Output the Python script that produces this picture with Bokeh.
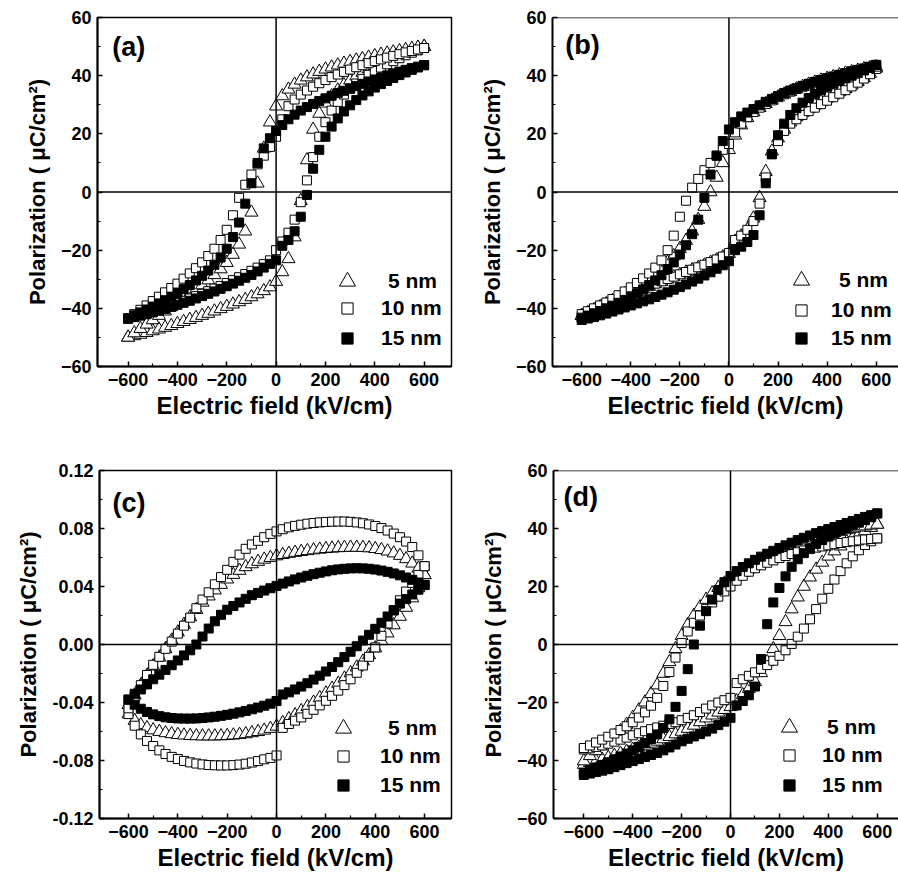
from bokeh.plotting import figure
from bokeh.layouts import row, column
from bokeh.models import (Range1d, FixedTicker, Span, Label, Legend, LegendItem,
                          NumeralTickFormatter)
from bokeh.embed import file_html
from bokeh.resources import INLINE

# ---------------- data ----------------
E = [-600, -575, -550, -525, -500, -475, -450, -425, -400, -375, -350, -325, -300,
     -275, -250, -225, -200, -175, -150, -125, -100, -75, -50, -25, 0, 25, 50, 75,
     100, 125, 150, 175, 200, 225, 250, 275, 300, 325, 350, 375, 400, 425, 450, 475,
     500, 525, 550, 575, 600]

# panel (a)
A5_up = [-50, -48.5, -47, -45.5, -44, -42.5, -41, -39.5, -38, -36.5, -35, -33.5, -32, -30.3, -28.5, -26.5, -24.3, -21.5, -18, -13.5,
         -7, 3, 15, 24, 29.5, 33, 35.3, 37, 38.4, 39.5, 40.5, 41.4, 42.2, 42.9, 43.6, 44.2, 44.8, 45.3, 45.8, 46.3,
         46.8, 47.3, 47.7, 48.1, 48.5, 48.9, 49.3, 49.7, 50]
A5_lo = [-50, -49.5, -49, -48.4, -47.8, -47.2, -46.6, -46, -45.3, -44.6, -43.9, -43.2, -42.5, -41.8, -41, -40.2, -39.4, -38.6, -37.8, -37,
         -36.1, -35.1, -34, -32.7, -30.8, -27.5, -23, -15.5, -3, 11, 21.5, 27, 30.5, 33, 35, 36.8, 38.4, 39.8, 41.1, 42.3,
         43.4, 44.4, 45.4, 46.3, 47.2, 48, 48.7, 49.4, 50]
A10_up = [-43.5, -42, -40.5, -39, -37.5, -36, -34.5, -33, -31.5, -29.8, -28, -26.2, -24.2, -22, -19.5, -16.5, -13, -8, -2, 2.5,
          6, 9.5, 12.5, 15.5, 19, 25, 29.5, 31.8, 33.5, 34.9, 36.2, 37.4, 38.5, 39.5, 40.4, 41.3, 42.1, 42.9, 43.6, 44.3,
          45, 45.6, 46.2, 46.8, 47.4, 48, 48.5, 49, 49.5]
A10_lo = [-43.5, -43, -42.4, -41.8, -41.1, -40.4, -39.7, -39, -38.2, -37.4, -36.6, -35.8, -35, -34.1, -33.2, -32.3, -31.3, -30.3, -29.3, -28.2,
          -27.1, -26, -24.8, -23.5, -20, -17, -14, -9.5, -3.5, 4, 12, 19, 24, 28, 31, 33.5, 35.5, 37.3, 38.9, 40.3,
          41.6, 42.8, 43.9, 45, 46, 47, 47.9, 48.7, 49.5]
A15_up = [-43.5, -42.4, -41.4, -40.4, -39.4, -38.3, -37.2, -36, -34.7, -33.4, -32, -30.4, -28.8, -27, -25, -22.5, -19.5, -15.5, -10.5, -4,
          3, 10, 15, 18.5, 21, 23, 25, 26.6, 28, 29.2, 30.3, 31.3, 32.2, 33.1, 34, 34.8, 35.6, 36.4, 37.2, 38,
          38.7, 39.4, 40.1, 40.8, 41.4, 42, 42.6, 43.1, 43.6]
A15_lo = [-43.5, -43, -42.5, -42, -41.4, -40.8, -40.2, -39.5, -38.8, -38.1, -37.4, -36.6, -35.8, -35, -34.2, -33.3, -32.4, -31.5, -30.5, -29.5,
          -28.5, -27.3, -26, -24.7, -23.5, -18.5, -16.5, -13.5, -8.5, -1, 8, 14.5, 19, 22.5, 25.3, 27.7, 29.8, 31.6, 33.2, 34.6,
          35.9, 37.1, 38.2, 39.2, 40.2, 41.1, 42, 42.8, 43.6]

# panel (b)
B5_up = [-42.5, -41.5, -40.5, -39.5, -38.5, -37.4, -36.3, -35.1, -33.9, -32.6, -31.2, -29.7, -28, -26.2, -24.2, -22, -19.5, -16.7, -13.5, -9.5,
         -5, 0, 5, 10, 14.5, 19.5, 23, 25.5, 27.5, 29, 30.3, 31.5, 32.6, 33.6, 34.5, 35.4, 36.2, 37, 37.7, 38.4,
         39, 39.6, 40.2, 40.8, 41.3, 41.8, 42.3, 42.7, 43]
B5_lo = [-42.5, -41.8, -41, -40.1, -39.2, -38.2, -37.2, -36.2, -35.2, -34.3, -33.4, -32.5, -31.6, -30.8, -30, -29.2, -28.4, -27.6, -26.8, -26,
         -25.2, -24.3, -23.4, -22.4, -21.2, -17, -15.2, -13, -9, -2, 7, 14, 18.5, 21.5, 24, 25.8, 27.3, 28.6, 29.8, 31,
         32.2, 33.3, 34.4, 35.5, 36.7, 37.9, 39.2, 40.7, 42.5]
B10_up = [-42, -41, -40, -39, -38, -36.8, -35.5, -34.2, -32.8, -31.3, -29.7, -28, -26, -23.5, -20, -15, -8.5, -3, 1.5, 4.5,
          7.5, 10, 12.5, 14.5, 16.5, 20.5, 23.5, 25.7, 27.5, 29, 30.3, 31.5, 32.6, 33.6, 34.5, 35.4, 36.2, 37, 37.7, 38.4,
          39, 39.6, 40.2, 40.8, 41.3, 41.8, 42.3, 42.7, 43.1]
B10_lo = [-43, -42.2, -41.3, -40.4, -39.4, -38.4, -37.3, -36.2, -35.1, -34.2, -33.3, -32.4, -31.5, -30.7, -29.9, -29.1, -28.3, -27.5, -26.7, -25.9,
          -25, -24.1, -23.2, -22.2, -21, -16.5, -15, -13, -10, -4, 5, 13, 17.5, 21, 23.5, 25, 26.5, 27.8, 29, 30.2,
          31.4, 32.6, 33.8, 35, 36.3, 37.6, 39, 40.5, 42.3]
B15_up = [-43.2, -42.5, -41.7, -40.9, -40, -39.1, -38.1, -37.1, -36, -34.8, -33.5, -32, -30.4, -28.6, -26.5, -24.2, -21.5, -18.3, -14.5, -9.5,
          -2, 6, 12.5, 17.5, 21.5, 24, 26, 27.3, 28.5, 29.8, 31, 32, 33, 34, 34.9, 35.7, 36.5, 37.2, 37.9, 38.5,
          39.1, 39.7, 40.3, 40.9, 41.5, 42, 42.5, 43.1, 43.7]
B15_lo = [-44, -43.5, -43, -42.4, -41.8, -41.1, -40.4, -39.7, -39, -38.3, -37.6, -36.9, -36.1, -35.3, -34.5, -33.6, -32.7, -31.8, -30.8, -29.8,
          -28.7, -27.6, -26.4, -25.2, -23.8, -20, -18.8, -17.2, -14.8, -8, 3, 13, 19.5, 23.5, 26.5, 28.8, 30.7, 32.3, 33.7, 35,
          36.2, 37.2, 38.2, 39.1, 40, 40.9, 41.8, 42.7, 43.7]

# panel (c)
C5_up = [-0.0415, -0.035, -0.028, -0.0215, -0.015, -0.0088, -0.003, 0.0028, 0.0085, 0.0138, 0.019, 0.024, 0.029, 0.0333, 0.0375, 0.0413, 0.045, 0.0482, 0.051, 0.0535,
         0.0555, 0.0572, 0.0587, 0.0599, 0.061, 0.0619, 0.0627, 0.0634, 0.064, 0.0646, 0.0651, 0.0656, 0.066, 0.0663, 0.0666, 0.0668, 0.0669, 0.0669, 0.0668, 0.0665,
         0.066, 0.0653, 0.0643, 0.063, 0.0613, 0.059, 0.056, 0.0525, 0.048]
C5_lo = [-0.048, -0.0525, -0.0555, -0.0575, -0.059, -0.0601, -0.061, -0.0617, -0.0622, -0.0626, -0.0629, -0.0631, -0.0632, -0.0632, -0.0632, -0.0631, -0.0629, -0.0626, -0.0622, -0.0617,
         -0.061, -0.0602, -0.0592, -0.058, -0.0565, -0.054, -0.0513, -0.0486, -0.0458, -0.0429, -0.0399, -0.0368, -0.0336, -0.0303, -0.0269, -0.0233, -0.0196, -0.0157, -0.0116, -0.0072,
         -0.0025, 0.0025, 0.0078, 0.0134, 0.0193, 0.0255, 0.032, 0.039, 0.048]
C10_up = [-0.044, -0.036, -0.028, -0.021, -0.014, -0.0085, -0.003, 0.002, 0.0075, 0.013, 0.0185, 0.025, 0.031, 0.036, 0.0415, 0.0465, 0.0515, 0.057, 0.062, 0.066,
          0.069, 0.0715, 0.074, 0.0763, 0.078, 0.0795, 0.0808, 0.0818, 0.0826, 0.0833, 0.0838, 0.0842, 0.0845, 0.0847, 0.0848, 0.0848, 0.0846, 0.0842, 0.0836, 0.0828,
          0.0817, 0.0803, 0.0786, 0.0765, 0.074, 0.071, 0.0672, 0.0615, 0.054]
C10_lo = [-0.048, -0.056, -0.062, -0.0665, -0.07, -0.073, -0.0755, -0.0775, -0.079, -0.0803, -0.0813, -0.0821, -0.0827, -0.0831, -0.0833, -0.0834, -0.0834, -0.0832, -0.0828, -0.0822,
          -0.0814, -0.0804, -0.0792, -0.0782, -0.0765, -0.0575, -0.0548, -0.0525, -0.0503, -0.0478, -0.045, -0.042, -0.0388, -0.0354, -0.0318, -0.028, -0.024, -0.0195, -0.0145, -0.0085,
          -0.002, 0.006, 0.0145, 0.0235, 0.0305, 0.0365, 0.0425, 0.048, 0.054]
C15_up = [-0.038, -0.034, -0.031, -0.0275, -0.024, -0.0208, -0.0175, -0.0143, -0.011, -0.0075, -0.004, 0.0, 0.0055, 0.011, 0.016, 0.0205, 0.024, 0.0265, 0.029, 0.0315,
          0.034, 0.0356, 0.0372, 0.0388, 0.0404, 0.042, 0.0435, 0.0449, 0.0462, 0.0474, 0.0485, 0.0495, 0.0504, 0.0512, 0.0518, 0.0522, 0.0525, 0.0526, 0.0525, 0.0522,
          0.0517, 0.051, 0.0501, 0.049, 0.0477, 0.0462, 0.0446, 0.0428, 0.041]
C15_lo = [-0.038, -0.0415, -0.0443, -0.0465, -0.0482, -0.0494, -0.0502, -0.0507, -0.051, -0.0511, -0.0511, -0.051, -0.0507, -0.0503, -0.0498, -0.0492, -0.0485, -0.0477, -0.0468, -0.0458,
          -0.0447, -0.0435, -0.0422, -0.0408, -0.039, -0.0345, -0.033, -0.031, -0.029, -0.0267, -0.0242, -0.0215, -0.0186, -0.0155, -0.0122, -0.0087, -0.005, -0.0012, 0.0027, 0.0067,
          0.0108, 0.015, 0.0193, 0.0237, 0.0282, 0.0313, 0.0345, 0.0378, 0.041]

# panel (d)
D5_up = [-40.2, -38.4, -36.7, -35, -33.3, -31.6, -29.8, -27.6, -25.2, -22.6, -19.9, -17, -14, -10, -6, -1.5, 3, 6.8, 10, 12.9,
         15.5, 17.7, 19.6, 21.1, 22.4, 23.6, 24.8, 26, 27.1, 28.2, 29.3, 30.4, 31.5, 32.5, 33.5, 34.4, 35.2, 35.9, 36.6, 37.3,
         37.9, 38.5, 39, 39.5, 40, 40.4, 40.8, 41.1, 41.4]
D5_lo = [-41.4, -40.8, -40.2, -39.6, -39, -38.3, -37.6, -36.9, -36.2, -35.5, -34.8, -34.1, -33.4, -32.6, -31.8, -30.9, -30, -29, -27.9, -26.7,
         -25.4, -24.4, -23.4, -22.5, -21.5, -19.5, -17.4, -15.2, -12.9, -9.8, -6, -1.5, 3, 7.8, 12.2, 16.3, 20, 23.2, 25.9, 28.3,
         30.4, 32.2, 33.9, 35.4, 36.7, 37.9, 39.1, 40.3, 41.4]
D10_up = [-35.7, -34.8, -33.8, -32.8, -31.8, -30.7, -29.5, -28.2, -26.8, -25.2, -23.4, -21.1, -18.4, -14.3, -9.5, -4.5, 0.5, 4.5, 7.5, 10,
          12.3, 14.5, 16.5, 18.3, 20, 22, 23.7, 25.1, 26.3, 27.3, 28.2, 29, 29.8, 30.5, 31.2, 31.8, 32.4, 32.9, 33.4, 33.8,
          34.2, 34.6, 35, 35.3, 35.6, 35.9, 36.2, 36.4, 36.6]
D10_lo = [-36.2, -35.8, -35.3, -34.8, -34.2, -33.5, -32.8, -32.1, -31.3, -30.6, -29.9, -29.2, -28.6, -28, -27.4, -26.8, -26.1, -25.3, -24.4, -23.3,
          -22.1, -21, -20, -19.2, -18.4, -13.3, -12, -10.8, -9.6, -8.4, -7.1, -5.6, -3.9, -2, 0.2, 2.7, 5.5, 8.7, 12.2, 15.8,
          19.2, 22.4, 25.3, 28, 30.4, 32.5, 34.3, 35.6, 36.6]
D15_up = [-44.2, -43.3, -42.4, -41.5, -40.6, -39.6, -38.6, -37.6, -36.5, -35.3, -34, -32.6, -31, -28.8, -25.8, -21.5, -16, -8.5, 0, 6.5,
          11.5, 15.5, 18.8, 21.5, 23.6, 25.3, 26.7, 28, 29.2, 30.3, 31.3, 32.3, 33.3, 34.2, 35.1, 36, 36.8, 37.6, 38.4, 39.1,
          39.8, 40.5, 41.2, 41.9, 42.6, 43.3, 44, 44.6, 45.2]
D15_lo = [-45, -44.5, -44, -43.5, -43, -42.3, -41.6, -40.9, -40.2, -39.5, -38.8, -38.1, -37.4, -36.5, -35.5, -34.5, -33.4, -32.5, -31.7, -30.9,
          -30, -29, -27.8, -26.6, -25.3, -21, -19.5, -17.5, -14.5, -5, 7, 14.5, 19.5, 23.5, 26.8, 29.4, 31.5, 33.2, 34.7, 36,
          37.2, 38.3, 39.3, 40.2, 41.1, 42, 42.9, 43.9, 45.2]

LABELS = ["5 nm", "10 nm", "15 nm"]
X_TICKS = [-600, -400, -200, 0, 200, 400, 600]
X_MINOR = [-500, -300, -100, 100, 300, 500]
Y_TICKS = [-60, -40, -20, 0, 20, 40, 60]
Y_MINOR = [-50, -30, -10, 10, 30, 50]
YC_TICKS = [-0.12, -0.08, -0.04, 0.0, 0.04, 0.08, 0.12]
YC_MINOR = [-0.10, -0.06, -0.02, 0.02, 0.06, 0.10]
X_TITLE = "Electric field (kV/cm)"
Y_TITLE = "Polarization ( \u03bcC/cm\u00b2)"

for arr in [A5_up, A5_lo, A10_up, A10_lo, A15_up, A15_lo, B5_up, B5_lo, B10_up, B10_lo,
            B15_up, B15_lo, C5_up, C5_lo, C10_up, C10_lo, C15_up, C15_lo, D5_up, D5_lo,
            D10_up, D10_lo, D15_up, D15_lo]:
    assert len(arr) == len(E), len(arr)

FONT = "Liberation Sans"


def panel(w, h, borders, xr, yr, yt, ym, series, tag, tag_xy, leg, yfmt=None, outline=True):
    bl, br, bt, bb = borders
    p = figure(width=w, height=h, min_border_left=bl, min_border_right=br,
               min_border_top=bt, min_border_bottom=bb,
               x_range=Range1d(*xr), y_range=Range1d(*yr),
               output_backend="svg", toolbar_location=None)
    p.background_fill_color = "white"
    p.border_fill_color = "white"
    p.xgrid.grid_line_color = None
    p.ygrid.grid_line_color = None
    if outline:
        p.outline_line_color = "black"
        p.outline_line_width = 1.5
        p.outline_line_alpha = 1.0
    else:
        p.outline_line_color = None
        p.add_layout(Span(location=yr[1], dimension="width", line_color="black", line_width=1.5))
    p.xaxis.ticker = FixedTicker(ticks=X_TICKS, minor_ticks=X_MINOR)
    p.yaxis.ticker = FixedTicker(ticks=yt, minor_ticks=ym)
    if yfmt:
        p.yaxis.formatter = NumeralTickFormatter(format=yfmt)
    for ax in (p.xaxis[0], p.yaxis[0]):
        ax.axis_line_width = 2
        ax.axis_line_color = "black"
        ax.major_tick_in = 5
        ax.major_tick_out = 0
        ax.minor_tick_in = 3
        ax.minor_tick_out = 0
        ax.major_tick_line_width = 1.5
        ax.minor_tick_line_width = 1.2
        ax.major_label_text_font = FONT
        ax.major_label_text_font_style = "bold"
        ax.major_label_text_font_size = "18px"
        ax.major_label_text_color = "black"
        ax.axis_label_text_font = FONT
        ax.axis_label_text_font_style = "bold"
        ax.axis_label_text_color = "black"
    p.xaxis.major_label_standoff = 6
    p.yaxis.major_label_standoff = 6
    p.xaxis.axis_label = X_TITLE
    p.xaxis.axis_label_text_font_size = "24px"
    p.xaxis.axis_label_standoff = 3
    p.yaxis.axis_label = Y_TITLE
    p.yaxis.axis_label_text_font_size = "22px"
    p.yaxis.axis_label_standoff = 8

    p.add_layout(Span(location=0, dimension="height", line_color="black", line_width=1.5))
    p.add_layout(Span(location=0, dimension="width", line_color="black", line_width=1.5))

    (lo5, up5), (lo10, up10), (lo15, up15) = series
    r5 = p.scatter(x=E + E, y=lo5 + up5, marker="triangle", size=13,
                   fill_color="white", line_color="black", line_width=1)
    r10 = p.scatter(x=E + E, y=lo10 + up10, marker="square", size=9,
                    fill_color="white", line_color="black", line_width=1)
    r15 = p.scatter(x=E + E, y=lo15 + up15, marker="square", size=9,
                    fill_color="black", line_color="black", line_width=1)

    p.add_layout(Label(x=tag_xy[0], y=tag_xy[1], text=tag, text_font=FONT,
                       text_font_style="bold", text_font_size="27px",
                       text_baseline="top", text_color="black"))

    # legend: three one-row legends so that the triangle can be drawn larger
    (tx, ty, ts), (sx, sy10, sy15, ss) = leg
    specs = [(r5, LABELS[0], tx, ty, 40, ts),
             (r10, LABELS[1], sx, sy10, 28, ss),
             (r15, LABELS[2], sx, sy15, 28, ss)]
    for r, lab, lx, ly, g, st in specs:
        lg = Legend(items=[LegendItem(label=lab, renderers=[r])], location=(lx, ly),
                    glyph_width=g, glyph_height=g, padding=0, margin=0, spacing=0,
                    label_standoff=st, border_line_color=None, background_fill_alpha=0,
                    label_text_font=FONT, label_text_font_style="bold",
                    label_text_font_size="21px", label_text_color="black")
        p.add_layout(lg)
    return p


pa = panel(453, 440, (97, 2, 17, 72), (-724, 711), (-60, 60), Y_TICKS, Y_MINOR,
           [(A5_lo, A5_up), (A10_lo, A10_up), (A15_lo, A15_up)],
           "(a)", (-664, 54.9), ((230, 65, 21), (236, 44, 14, 20)))
pb = panel(445, 440, (99, 0, 16, 74), (-719, 691), (-60, 60), Y_TICKS, Y_MINOR,
           [(B5_lo, B5_up), (B10_lo, B10_up), (B15_lo, B15_up)],
           "(b)", (-667, 55.8), ((229, 66, 18), (235, 42, 14, 16)), outline=False)
pc = panel(453, 441, (99, 2, 30, 61), (-717.5, 709), (-0.12, 0.12), YC_TICKS, YC_MINOR,
           [(C5_lo, C5_up), (C10_lo, C10_up), (C15_lo, C15_up)],
           "(c)", (-665, 0.1077), ((224, 70, 25), (230, 48, 19, 23)), yfmt="0.00")
pd_ = panel(445, 441, (100, 0, 27, 63), (-724, 687), (-60, 60), Y_TICKS, Y_MINOR,
            [(D5_lo, D5_up), (D10_lo, D10_up), (D15_lo, D15_up)],
            "(d)", (-683, 56.2), ((216, 71, 18), (222, 49, 19, 19)), outline=False)

layout = column(row(pa, pb, spacing=0), row(pc, pd_, spacing=0), spacing=0)
open("out.html", "w").write(file_html(layout, INLINE))
